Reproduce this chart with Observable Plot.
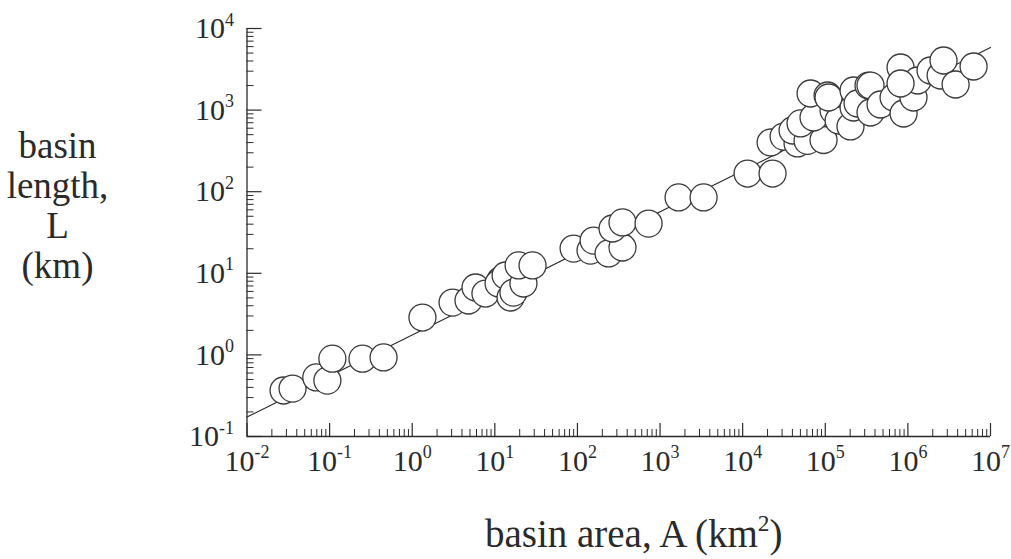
<!DOCTYPE html>
<html><head><meta charset="utf-8">
<script src="https://cdn.jsdelivr.net/npm/d3@7"></script>
<script src="https://cdn.jsdelivr.net/npm/@observablehq/plot@0.6"></script>
<style>
html,body{margin:0;padding:0;background:#fff;}
#chart{width:1011px;height:559px;overflow:hidden;}
</style>
</head><body><div id="chart"></div>
<script>
// Basin data (km^2, km)
const areaKm2 = [
  0.0277, 0.0356, 0.069, 0.094, 0.108, 0.25, 0.45,
  1.33, 3.08, 4.8, 5.84, 7.7, 11.7, 11.1, 15.5, 13.5, 16.8, 22.2, 19.4, 28.6,
  89.8, 144, 157, 238, 351, 266, 351, 726, 1676, 3365,
  11460, 23000,
  21800, 31300, 46200, 40200, 61000, 95300, 50200, 72100, 126000, 145000, 202000,
  220000, 66400, 106700, 109600,
  220000, 246000, 353000, 334000, 353000, 467000, 671000, 887000, 815000, 1170000, 1310000, 1880000,
  2490000, 2700000, 3780000, 6240000, 815000
];
const lengthKm = [
  0.366, 0.387, 0.53, 0.485, 0.90, 0.90, 0.93,
  2.87, 4.38, 4.64, 6.7, 5.65, 8.2, 7.5, 5.05, 9.4, 5.8, 7.5, 12.5, 12.5,
  20.1, 19, 25.2, 17.5, 20.7, 35.4, 42, 40.7, 85, 85,
  167, 167,
  401, 474, 390, 562, 420, 430, 686, 811, 988, 746, 630,
  1076, 1597, 1510, 1426,
  1738, 1205, 935, 2000, 2000, 1172, 1426, 908, 3327, 1426, 2307, 3055,
  2655, 4055, 2060, 3423, 2118
];
// fitted line endpoints (Hack's law)
const fitArea = [0.01, 1e7];
const fitLength = [0.173, 5850];

const xDecades = [-2, -1, 0, 1, 2, 3, 4, 5, 6, 7];
const yDecades = [-1, 0, 1, 2, 3, 4];
const minorSteps = [2, 3, 4, 5, 6, 7, 8, 9];
const xTitle = "basin area, A (km^{2})";
const yTitle = "basin\nlength,\nL\n(km)";

const W = 1011, H = 559, mL = 246.5, mR = 21, mT = 28, mB = 123;
const fw = W - mL - mR, fh = H - mT - mB;
const ink = "#2a2a2a";

const points = areaKm2.map((a, i) => ({a, l: lengthKm[i]}));
const fit = fitArea.map((a, i) => ({a, l: fitLength[i]}));
const xMajor = xDecades.map(e => 10 ** e);
const yMajor = yDecades.map(e => 10 ** e);
const xMinor = xDecades.slice(0, -1).flatMap(e => minorSteps.map(m => m * 10 ** e));
const yMinor = yDecades.slice(0, -1).flatMap(e => minorSteps.map(m => m * 10 ** e));
const fmt = d => "10^{" + Math.round(Math.log10(d)) + "}";

const chart = Plot.plot({
  width: W, height: H,
  marginLeft: mL, marginRight: mR, marginTop: mT, marginBottom: mB,
  style: {fontFamily: "'Liberation Serif','Times New Roman',serif", background: "#fff", color: ink},
  x: {type: "log", domain: [0.01, 1e7], axis: null},
  y: {type: "log", domain: [0.1, 1e4], axis: null},
  marks: [
    Plot.axisX({ticks: xMajor, tickSize: 0, tickPadding: 13, fontSize: 30, tickFormat: fmt, label: null}),
    Plot.axisY({ticks: yMajor, tickSize: 0, tickPadding: 13, fontSize: 30, tickFormat: fmt, label: null}),
    Plot.ruleY([0.1], {stroke: ink, strokeWidth: 1.3}),
    Plot.ruleX([0.01], {stroke: ink, strokeWidth: 1.3}),
    Plot.ruleX(xMajor, {x: d => d, insetTop: fh - 13, stroke: ink, strokeWidth: 1.2}),
    Plot.ruleX(xMinor, {x: d => d, insetTop: fh - 7, stroke: ink, strokeWidth: 1}),
    Plot.ruleY(yMajor, {y: d => d, insetRight: fw - 15, stroke: ink, strokeWidth: 1.2}),
    Plot.ruleY(yMinor, {y: d => d, insetRight: fw - 7, stroke: ink, strokeWidth: 1}),
    Plot.line(fit, {x: "a", y: "l", stroke: ink, strokeWidth: 1.2}),
    Plot.dot(points, {x: "a", y: "l", r: 13.5, fill: "#fff", stroke: "#3a3a3a", strokeWidth: 1.3}),
    Plot.text([xTitle], {text: d => d, frameAnchor: "bottom", dx: 15, dy: 98, fontSize: 39,
      lineAnchor: "middle", textAnchor: "middle", fill: ink}),
    Plot.text([yTitle], {text: d => d, frameAnchor: "left", dx: -189.5, dy: -27, fontSize: 37,
      lineHeight: 1.08, lineAnchor: "middle", textAnchor: "middle", fill: ink})
  ]
});
document.getElementById("chart").appendChild(chart);

// turn "base^{exp}" into real superscript tspans
d3.select(chart).selectAll("text").each(function () {
  const el = this;
  const s = el.textContent;
  if (!s.includes("^{")) return;
  const fs = parseFloat(getComputedStyle(el).fontSize) || 30;
  const parts = s.split(/\^\{([^}]*)\}/);
  while (el.firstChild) el.removeChild(el.firstChild);
  const shift = 0.42 * fs;
  parts.forEach((p, i) => {
    if (p === "") return;
    const t = document.createElementNS("http://www.w3.org/2000/svg", "tspan");
    t.textContent = p;
    if (i % 2 === 1) {
      t.setAttribute("font-size", 0.6 * fs);
      t.setAttribute("dy", -shift);
    } else if (i > 0) {
      t.setAttribute("dy", shift);
    }
    el.appendChild(t);
  });
});
</script>
</body></html>
